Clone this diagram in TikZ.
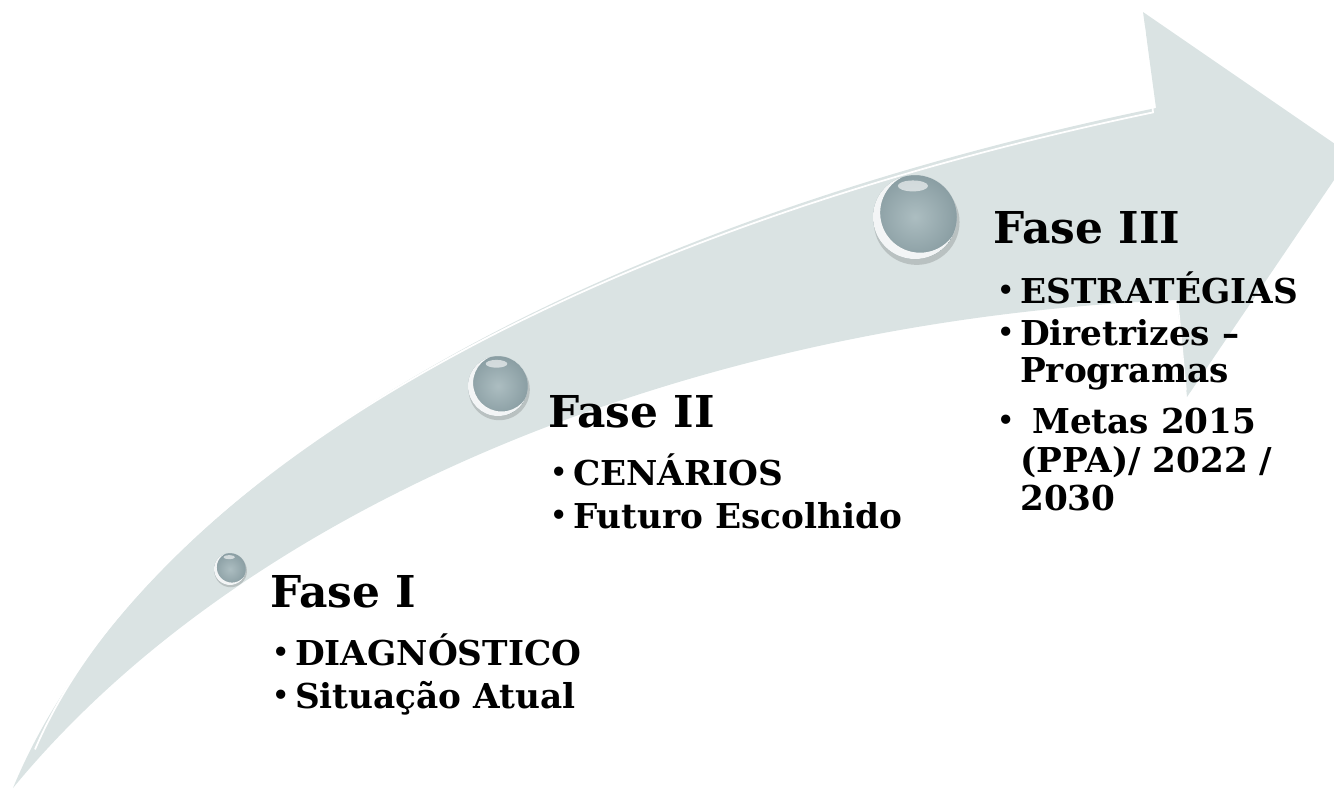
\documentclass[tikz,border=0pt]{standalone}
\usepackage{fontspec}
\setmainfont{DejaVu Serif}
\definecolor{arrowgrey}{RGB}{218,227,227}
\definecolor{beadgrey}{RGB}{163,182,186}
\definecolor{beadrim}{RGB}{138,158,163}
\newcommand\itemdot{\makebox[13pt][l]{\raisebox{.1em}{\fontsize{15}{15}\selectfont•}}}
\newcommand\itemgap{\hspace*{13pt}}
\tikzset{
  phase/.style={anchor=base west, inner sep=0pt, font=\fontsize{25}{30}\selectfont\bfseries},
  item/.style={anchor=base west, inner sep=0pt, font=\fontsize{19.5}{24}\selectfont\bfseries},
  pics/bead/.style={code={
    \fill[black,opacity=.15] (.04*#1,.12*#1) circle (1.02*#1);
    \shade[inner color=beadgrey!90!white, outer color=beadrim] (0,0) circle (#1);
    \begin{scope}
      \clip (0,0) circle (#1);
      \fill[white,opacity=.9,even odd rule] (0,0) circle (#1) (.12*#1,-.1*#1) circle (.95*#1);
      \fill[white,opacity=.6] (-.05*#1,-.74*#1) ellipse (.36*#1 and .13*#1);
    \end{scope}
  }}
}
\begin{document}
\begin{tikzpicture}[x=0.02cm,y=-0.02cm]
    \useasboundingbox (0,0) rectangle (1334,791);
    \begin{scope}
        \clip (0,0) rectangle (1334,791);
        % the big arrow
        \fill[arrowgrey] (13,788) .. controls (130,505) and (520,240) .. (1156,108)
            -- (1143,12) -- (1351,155) -- (1187,397) -- (1177,300)
            .. controls (700,320) and (250,500) .. (13,788) -- cycle;
        \draw[white,line width=1pt,yshift=-2.5pt] (35,745) .. controls (140,500) and (520,240) .. (1153,108) -- (1144,22);
        \draw[white,line width=.8pt] (1178,304) -- (1186,390);
    \end{scope}
    \pic at (230,569) {bead=16};
    \pic at (498,386) {bead=30};
    \pic at (915,217) {bead=42};
    \node[phase] (fase1) at (270,607) {Fase I};
    \node[item] (diag) at (272,665) {\itemdot DIAGNÓSTICO};
    \node[item] (situ) at (272,708) {\itemdot Situação Atual};
    \node[phase] (fase2) at (548,427) {Fase II};
    \node[item] (cena) at (550,485) {\itemdot CENÁRIOS};
    \node[item] (futu) at (550,528) {\itemdot Futuro Escolhido};
    \node[phase] (fase3) at (993,243) {Fase III};
    \node[item] (estr) at (997,303) {\itemdot ESTRATÉGIAS};
    \node[item] (dire) at (997,345) {\itemdot Diretrizes --};
    \node[item] (prog) at (997,382) {\itemgap Programas};
    \node[item] (meta) at (997,433) {\itemdot\ Metas 2015};
    \node[item] (ppa) at (997,472) {\itemgap (PPA)/ 2022 /};
    \node[item] (ano) at (997,510) {\itemgap 2030};
\end{tikzpicture}
\end{document}
